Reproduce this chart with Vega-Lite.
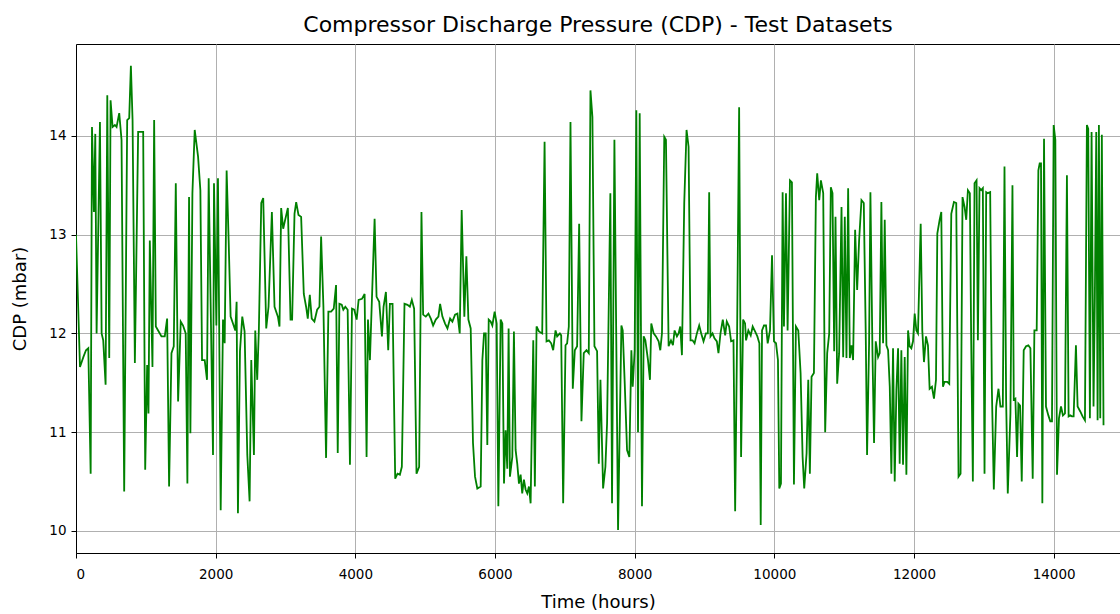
{
  "$schema": "https://vega.github.io/schema/vega-lite/v6.json",
  "autosize": {"type": "none"},
  "padding": {"left": 76, "top": 44, "right": 0, "bottom": 61},
  "width": 1044,
  "height": 509,
  "background": "white",
  "title": {"text": "Compressor Discharge Pressure (CDP) - Test Datasets", "anchor": "middle", "font": "DejaVu Sans", "fontSize": 22, "fontWeight": "normal", "color": "#000000", "offset": 7},
  "config": {
    "view": {"stroke": "#000000", "strokeWidth": 1},
    "axis": {"labelFont": "DejaVu Sans", "titleFont": "DejaVu Sans", "labelFontSize": 13.5, "titleFontSize": 18, "titleFontWeight": "normal", "labelColor": "#000000", "titleColor": "#000000", "domainColor": "#000000", "tickColor": "#000000", "tickSize": 5, "labelPadding": 5, "gridColor": "#b0b0b0", "gridWidth": 1, "gridOpacity": 1}
  },
  "data": {"values": [
    {"t":0,"cdp":13.0},{"t":57,"cdp":11.66},{"t":105,"cdp":11.76},{"t":143,"cdp":11.83},{"t":176,"cdp":11.85},{"t":210,"cdp":10.58},{"t":229,"cdp":14.09},{"t":257,"cdp":13.23},{"t":276,"cdp":14.02},{"t":295,"cdp":12.0},{"t":343,"cdp":14.14},{"t":367,"cdp":12.0},{"t":390,"cdp":11.93},{"t":424,"cdp":11.48},{"t":448,"cdp":14.41},{"t":476,"cdp":11.75},{"t":495,"cdp":14.36},{"t":524,"cdp":14.09},{"t":557,"cdp":14.11},{"t":581,"cdp":14.09},{"t":619,"cdp":14.23},{"t":652,"cdp":13.96},{"t":690,"cdp":10.4},{"t":733,"cdp":14.16},{"t":762,"cdp":14.18},{"t":786,"cdp":14.71},{"t":810,"cdp":14.16},{"t":843,"cdp":11.7},{"t":890,"cdp":14.04},{"t":938,"cdp":14.04},{"t":962,"cdp":14.04},{"t":991,"cdp":10.62},{"t":1019,"cdp":11.68},{"t":1038,"cdp":11.19},{"t":1057,"cdp":12.94},{"t":1095,"cdp":11.66},{"t":1119,"cdp":14.16},{"t":1143,"cdp":12.07},{"t":1176,"cdp":12.03},{"t":1224,"cdp":11.97},{"t":1271,"cdp":11.97},{"t":1305,"cdp":12.15},{"t":1333,"cdp":10.45},{"t":1367,"cdp":11.8},{"t":1400,"cdp":11.87},{"t":1429,"cdp":13.52},{"t":1462,"cdp":11.31},{"t":1500,"cdp":12.12},{"t":1533,"cdp":12.08},{"t":1571,"cdp":12.0},{"t":1595,"cdp":10.48},{"t":1619,"cdp":13.38},{"t":1638,"cdp":10.99},{"t":1667,"cdp":13.42},{"t":1700,"cdp":14.06},{"t":1748,"cdp":13.79},{"t":1781,"cdp":13.45},{"t":1805,"cdp":11.73},{"t":1843,"cdp":11.73},{"t":1876,"cdp":11.53},{"t":1900,"cdp":13.57},{"t":1962,"cdp":10.77},{"t":1976,"cdp":13.52},{"t":2010,"cdp":12.08},{"t":2033,"cdp":13.57},{"t":2072,"cdp":10.21},{"t":2105,"cdp":12.14},{"t":2129,"cdp":11.9},{"t":2157,"cdp":13.65},{"t":2186,"cdp":12.94},{"t":2214,"cdp":12.17},{"t":2248,"cdp":12.1},{"t":2281,"cdp":12.03},{"t":2300,"cdp":12.32},{"t":2319,"cdp":10.18},{"t":2348,"cdp":11.82},{"t":2381,"cdp":12.17},{"t":2414,"cdp":12.02},{"t":2453,"cdp":10.77},{"t":2486,"cdp":10.3},{"t":2510,"cdp":11.73},{"t":2548,"cdp":10.77},{"t":2567,"cdp":12.03},{"t":2595,"cdp":11.53},{"t":2619,"cdp":12.05},{"t":2653,"cdp":13.32},{"t":2681,"cdp":13.37},{"t":2724,"cdp":12.05},{"t":2757,"cdp":12.27},{"t":2805,"cdp":13.23},{"t":2843,"cdp":12.27},{"t":2891,"cdp":12.17},{"t":2914,"cdp":12.07},{"t":2938,"cdp":13.27},{"t":2967,"cdp":13.06},{"t":2995,"cdp":13.15},{"t":3034,"cdp":13.27},{"t":3072,"cdp":12.14},{"t":3095,"cdp":12.14},{"t":3129,"cdp":13.21},{"t":3153,"cdp":13.33},{"t":3186,"cdp":13.2},{"t":3224,"cdp":13.18},{"t":3262,"cdp":12.4},{"t":3295,"cdp":12.27},{"t":3319,"cdp":12.15},{"t":3348,"cdp":12.39},{"t":3376,"cdp":12.15},{"t":3414,"cdp":12.12},{"t":3453,"cdp":12.24},{"t":3486,"cdp":12.27},{"t":3510,"cdp":12.98},{"t":3543,"cdp":12.27},{"t":3581,"cdp":10.74},{"t":3614,"cdp":12.22},{"t":3653,"cdp":12.22},{"t":3691,"cdp":12.25},{"t":3724,"cdp":12.49},{"t":3748,"cdp":10.79},{"t":3772,"cdp":12.3},{"t":3805,"cdp":12.29},
    {"t":3828,"cdp":12.24},{"t":3857,"cdp":12.27},{"t":3890,"cdp":12.24},{"t":3923,"cdp":10.67},{"t":3952,"cdp":12.25},{"t":3985,"cdp":12.24},{"t":4019,"cdp":12.14},{"t":4047,"cdp":12.34},{"t":4095,"cdp":12.35},{"t":4133,"cdp":12.4},{"t":4161,"cdp":10.75},{"t":4181,"cdp":12.14},{"t":4209,"cdp":11.73},{"t":4228,"cdp":12.14},{"t":4276,"cdp":13.16},{"t":4304,"cdp":12.37},{"t":4342,"cdp":12.32},{"t":4381,"cdp":11.97},{"t":4404,"cdp":12.27},{"t":4438,"cdp":12.42},{"t":4471,"cdp":11.83},{"t":4495,"cdp":12.3},{"t":4533,"cdp":12.3},{"t":4571,"cdp":10.53},{"t":4604,"cdp":10.58},{"t":4638,"cdp":10.57},{"t":4666,"cdp":10.65},{"t":4704,"cdp":12.3},{"t":4747,"cdp":12.29},{"t":4781,"cdp":12.27},{"t":4809,"cdp":12.34},{"t":4842,"cdp":12.25},{"t":4876,"cdp":10.58},{"t":4914,"cdp":10.65},{"t":4947,"cdp":13.23},{"t":4971,"cdp":12.19},{"t":5009,"cdp":12.17},{"t":5047,"cdp":12.2},{"t":5081,"cdp":12.15},{"t":5114,"cdp":12.08},{"t":5152,"cdp":12.14},{"t":5190,"cdp":12.17},{"t":5214,"cdp":12.3},{"t":5247,"cdp":12.17},{"t":5285,"cdp":12.1},{"t":5319,"cdp":12.05},{"t":5357,"cdp":12.15},{"t":5390,"cdp":12.12},{"t":5428,"cdp":12.19},{"t":5462,"cdp":12.2},{"t":5495,"cdp":12.0},{"t":5523,"cdp":13.25},{"t":5561,"cdp":12.17},{"t":5590,"cdp":12.78},{"t":5619,"cdp":12.14},{"t":5652,"cdp":12.05},{"t":5685,"cdp":10.89},{"t":5714,"cdp":10.55},{"t":5747,"cdp":10.43},
    {"t":5795,"cdp":10.45},{"t":5819,"cdp":11.73},{"t":5843,"cdp":12.0},{"t":5867,"cdp":12.0},{"t":5890,"cdp":10.87},{"t":5910,"cdp":12.14},{"t":5938,"cdp":12.12},{"t":5962,"cdp":12.08},{"t":5995,"cdp":12.22},{"t":6024,"cdp":12.1},{"t":6048,"cdp":10.25},{"t":6081,"cdp":12.14},{"t":6105,"cdp":12.1},{"t":6129,"cdp":10.48},{"t":6152,"cdp":11.02},{"t":6176,"cdp":10.63},{"t":6195,"cdp":12.05},{"t":6214,"cdp":10.55},{"t":6248,"cdp":10.75},{"t":6271,"cdp":12.02},{"t":6295,"cdp":10.82},{"t":6319,"cdp":10.68},{"t":6343,"cdp":10.48},{"t":6367,"cdp":10.57},{"t":6390,"cdp":10.38},{"t":6414,"cdp":10.52},{"t":6438,"cdp":10.42},{"t":6462,"cdp":10.38},{"t":6486,"cdp":10.45},{"t":6510,"cdp":10.28},{"t":6548,"cdp":11.93},{"t":6571,"cdp":10.45},{"t":6595,"cdp":12.07},{"t":6629,"cdp":12.02},{"t":6676,"cdp":12.0},{"t":6710,"cdp":13.94},{"t":6738,"cdp":11.92},{"t":6771,"cdp":11.93},{"t":6805,"cdp":11.9},{"t":6833,"cdp":11.83},{"t":6867,"cdp":12.03},{"t":6890,"cdp":11.97},{"t":6929,"cdp":12.0},{"t":6948,"cdp":11.98},{"t":6976,"cdp":10.28},{"t":7010,"cdp":11.88},{"t":7033,"cdp":11.9},{"t":7057,"cdp":12.07},{"t":7081,"cdp":14.14},{"t":7114,"cdp":11.44},{"t":7143,"cdp":11.83},{"t":7176,"cdp":11.87},{"t":7205,"cdp":13.11},{"t":7238,"cdp":11.11},{"t":7271,"cdp":11.8},{"t":7310,"cdp":11.83},{"t":7343,"cdp":11.8},{"t":7367,"cdp":14.46},{"t":7395,"cdp":14.19},{"t":7424,"cdp":11.87},{"t":7462,"cdp":11.82},{"t":7486,"cdp":10.68},{"t":7510,"cdp":11.53},{"t":7548,"cdp":10.43},{"t":7581,"cdp":10.65},{"t":7605,"cdp":11.09},{"t":7652,"cdp":13.42},{"t":7676,"cdp":10.28},{"t":7710,"cdp":13.96},
    {"t":7762,"cdp":10.01},{"t":7810,"cdp":12.08},{"t":7829,"cdp":12.03},{"t":7858,"cdp":11.49},{"t":7891,"cdp":10.82},{"t":7924,"cdp":10.75},{"t":7953,"cdp":11.83},{"t":7972,"cdp":11.46},{"t":8000,"cdp":11.83},{"t":8024,"cdp":14.26},{"t":8048,"cdp":11.0},{"t":8072,"cdp":14.23},{"t":8105,"cdp":10.25},{"t":8129,"cdp":11.97},{"t":8153,"cdp":11.93},{"t":8191,"cdp":11.73},{"t":8219,"cdp":11.53},{"t":8238,"cdp":12.1},{"t":8272,"cdp":12.0},{"t":8305,"cdp":11.97},{"t":8343,"cdp":11.92},{"t":8367,"cdp":11.83},{"t":8391,"cdp":12.0},{"t":8424,"cdp":13.99},{"t":8448,"cdp":13.96},{"t":8486,"cdp":11.87},{"t":8520,"cdp":11.93},{"t":8548,"cdp":11.88},{"t":8572,"cdp":12.03},{"t":8605,"cdp":11.97},{"t":8629,"cdp":12.0},{"t":8653,"cdp":12.07},{"t":8677,"cdp":11.78},{"t":8710,"cdp":13.32},{"t":8743,"cdp":14.06},{"t":8772,"cdp":13.89},{"t":8800,"cdp":11.93},{"t":8829,"cdp":11.93},{"t":8858,"cdp":11.9},{"t":8891,"cdp":12.0},{"t":8924,"cdp":12.08},{"t":8953,"cdp":12.0},{"t":8986,"cdp":11.92},{"t":9020,"cdp":12.0},{"t":9048,"cdp":12.0},{"t":9067,"cdp":13.43},{"t":9086,"cdp":11.97},{"t":9115,"cdp":12.0},{"t":9143,"cdp":11.95},{"t":9177,"cdp":11.92},{"t":9200,"cdp":11.8},{"t":9229,"cdp":12.0},{"t":9262,"cdp":12.14},{"t":9296,"cdp":11.98},{"t":9319,"cdp":12.12},{"t":9353,"cdp":12.07},{"t":9381,"cdp":11.92},{"t":9415,"cdp":11.93},{"t":9439,"cdp":10.2},{"t":9467,"cdp":12.0},{"t":9496,"cdp":14.29},{"t":9524,"cdp":10.75},{"t":9553,"cdp":12.14},{"t":9581,"cdp":12.1},
    {"t":9595,"cdp":11.93},{"t":9628,"cdp":12.03},{"t":9662,"cdp":11.98},{"t":9690,"cdp":12.07},{"t":9724,"cdp":12.02},{"t":9757,"cdp":11.97},{"t":9786,"cdp":11.9},{"t":9805,"cdp":10.06},{"t":9824,"cdp":12.03},{"t":9852,"cdp":12.08},{"t":9881,"cdp":12.08},{"t":9905,"cdp":11.9},{"t":9938,"cdp":12.03},{"t":9967,"cdp":12.79},{"t":9995,"cdp":11.92},{"t":10024,"cdp":11.9},{"t":10052,"cdp":11.73},{"t":10071,"cdp":10.43},{"t":10095,"cdp":10.48},{"t":10119,"cdp":13.43},{"t":10138,"cdp":12.07},{"t":10167,"cdp":13.42},{"t":10190,"cdp":12.03},{"t":10224,"cdp":13.55},{"t":10252,"cdp":13.53},{"t":10281,"cdp":10.47},{"t":10309,"cdp":12.07},{"t":10343,"cdp":12.03},{"t":10376,"cdp":11.6},{"t":10405,"cdp":10.75},{"t":10428,"cdp":10.43},{"t":10462,"cdp":10.79},{"t":10486,"cdp":11.53},{"t":10509,"cdp":10.58},{"t":10533,"cdp":11.56},{"t":10567,"cdp":11.6},{"t":10595,"cdp":13.38},{"t":10614,"cdp":13.62},{"t":10643,"cdp":13.35},{"t":10667,"cdp":13.55},{"t":10700,"cdp":13.42},{"t":10728,"cdp":11.0},{"t":10757,"cdp":11.8},{"t":10786,"cdp":12.0},{"t":10809,"cdp":13.48},{"t":10833,"cdp":13.42},{"t":10857,"cdp":11.82},{"t":10876,"cdp":13.18},{"t":10900,"cdp":11.49},{"t":10928,"cdp":11.8},{"t":10962,"cdp":13.28},{"t":10986,"cdp":11.76},{"t":11009,"cdp":13.18},{"t":11033,"cdp":11.75},{"t":11057,"cdp":13.47},{"t":11081,"cdp":11.75},{"t":11105,"cdp":11.88},{"t":11128,"cdp":11.73},{"t":11157,"cdp":13.05},{"t":11186,"cdp":12.44},{"t":11214,"cdp":12.94},{"t":11248,"cdp":13.35},{"t":11281,"cdp":13.32},{"t":11309,"cdp":12.0},{"t":11328,"cdp":10.77},{"t":11357,"cdp":11.9},{"t":11376,"cdp":13.43},{"t":11405,"cdp":11.82},{"t":11428,"cdp":10.89},{"t":11452,"cdp":11.92},{"t":11486,"cdp":11.76},{"t":11509,"cdp":11.8},{"t":11533,"cdp":13.33},
    {"t":11557,"cdp":11.9},{"t":11581,"cdp":13.15},{"t":11605,"cdp":11.88},{"t":11629,"cdp":11.83},{"t":11653,"cdp":11.46},{"t":11676,"cdp":10.58},{"t":11700,"cdp":11.85},{"t":11724,"cdp":10.5},{"t":11748,"cdp":11.43},{"t":11772,"cdp":11.85},{"t":11795,"cdp":10.68},{"t":11819,"cdp":11.83},{"t":11843,"cdp":10.67},{"t":11867,"cdp":11.76},{"t":11891,"cdp":10.57},{"t":11915,"cdp":12.03},{"t":11938,"cdp":11.87},{"t":11962,"cdp":11.85},{"t":11986,"cdp":11.92},{"t":12010,"cdp":12.2},{"t":12034,"cdp":12.03},{"t":12057,"cdp":12.0},{"t":12096,"cdp":13.11},{"t":12119,"cdp":12.03},{"t":12143,"cdp":11.71},{"t":12172,"cdp":11.97},{"t":12200,"cdp":11.88},{"t":12224,"cdp":11.44},{"t":12257,"cdp":11.46},{"t":12286,"cdp":11.34},{"t":12315,"cdp":11.53},{"t":12334,"cdp":13.01},{"t":12367,"cdp":13.15},{"t":12391,"cdp":13.23},{"t":12415,"cdp":11.46},{"t":12438,"cdp":11.51},{"t":12476,"cdp":11.51},{"t":12505,"cdp":11.49},{"t":12534,"cdp":13.21},{"t":12572,"cdp":13.33},{"t":12605,"cdp":13.32},{"t":12638,"cdp":10.55},{"t":12667,"cdp":10.58},{"t":12695,"cdp":13.38},{"t":12724,"cdp":13.28},{"t":12748,"cdp":13.15},{"t":12772,"cdp":13.45},{"t":12800,"cdp":13.42},{"t":12819,"cdp":11.93},{"t":12843,"cdp":10.5},{"t":12867,"cdp":13.52},{"t":12896,"cdp":13.55},{"t":12915,"cdp":11.93},{"t":12938,"cdp":13.47},{"t":12962,"cdp":13.45},{"t":12986,"cdp":13.47},{"t":13010,"cdp":10.58},{"t":13034,"cdp":13.43},{"t":13057,"cdp":13.42},{"t":13091,"cdp":13.43},{"t":13115,"cdp":11.44},{"t":13143,"cdp":10.42},{"t":13177,"cdp":11.26},{"t":13210,"cdp":11.44},{"t":13238,"cdp":11.26},{"t":13272,"cdp":11.26},{"t":13296,"cdp":13.69},{"t":13319,"cdp":11.34},{"t":13343,"cdp":10.38},{"t":13381,"cdp":11.19},{"t":13410,"cdp":13.5},
    {"t":13429,"cdp":11.33},{"t":13452,"cdp":11.34},{"t":13476,"cdp":10.75},{"t":13495,"cdp":11.29},{"t":13519,"cdp":11.27},{"t":13543,"cdp":10.5},{"t":13571,"cdp":11.83},{"t":13605,"cdp":11.87},{"t":13638,"cdp":11.88},{"t":13667,"cdp":11.85},{"t":13700,"cdp":10.53},{"t":13724,"cdp":12.03},{"t":13757,"cdp":12.03},{"t":13781,"cdp":13.65},{"t":13800,"cdp":13.72},{"t":13819,"cdp":13.72},{"t":13838,"cdp":10.28},{"t":13862,"cdp":13.97},{"t":13890,"cdp":11.26},{"t":13924,"cdp":11.17},{"t":13952,"cdp":11.11},{"t":13976,"cdp":11.11},{"t":14000,"cdp":14.11},{"t":14024,"cdp":13.96},{"t":14048,"cdp":10.57},{"t":14076,"cdp":11.14},{"t":14105,"cdp":11.26},{"t":14133,"cdp":11.17},{"t":14162,"cdp":11.19},{"t":14190,"cdp":13.6},{"t":14214,"cdp":11.16},{"t":14238,"cdp":11.17},{"t":14262,"cdp":11.16},{"t":14286,"cdp":11.16},{"t":14319,"cdp":11.88},{"t":14343,"cdp":11.26},{"t":14381,"cdp":11.21},{"t":14414,"cdp":11.16},{"t":14448,"cdp":11.12},{"t":14476,"cdp":14.11},{"t":14495,"cdp":14.07},{"t":14519,"cdp":11.14},{"t":14543,"cdp":14.04},{"t":14571,"cdp":11.26},{"t":14590,"cdp":12.37},{"t":14610,"cdp":14.04},{"t":14629,"cdp":11.12},{"t":14648,"cdp":14.11},{"t":14667,"cdp":11.14},{"t":14690,"cdp":14.01},{"t":14714,"cdp":11.07}
  ]},
  "mark": {"type": "line", "color": "#008000", "strokeWidth": 1.8, "clip": true, "interpolate": "linear"},
  "encoding": {
    "x": {"field": "t", "type": "quantitative", "scale": {"domain": [0, 14950], "nice": false, "zero": false}, "axis": {"title": "Time (hours)", "values": [0, 2000, 4000, 6000, 8000, 10000, 12000, 14000], "format": "d", "grid": true, "labelPadding": 9, "titlePadding": 13}},
    "y": {"field": "cdp", "type": "quantitative", "scale": {"domain": [9.777, 14.93], "nice": false, "zero": false}, "axis": {"title": "CDP (mbar)", "values": [10, 11, 12, 13, 14], "format": "d", "grid": true, "titlePadding": 19}}
  }
}
